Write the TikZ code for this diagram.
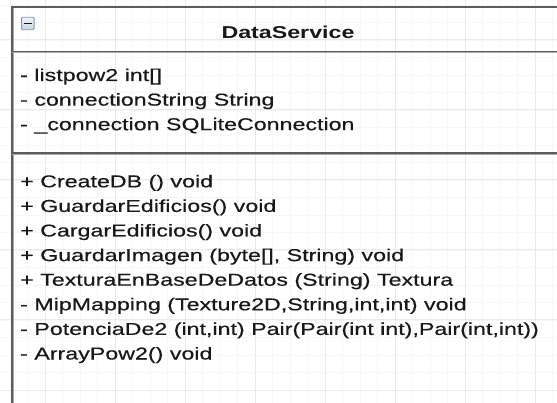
\documentclass[tikz,border=0pt]{standalone}
\usepackage{fontspec}
\setmainfont{Liberation Sans}[FakeStretch=1.35, UprightFeatures={FakeBold=0.35}]
\definecolor{gridmajor}{HTML}{EAEAEA}
\definecolor{gridminor}{HTML}{F7F7F7}
\definecolor{edge}{HTML}{5C5C5C}
\definecolor{edgelight}{HTML}{ABABAB}
\definecolor{ink}{HTML}{181818}
\definecolor{iconedge}{HTML}{8497AE}
\definecolor{icontop}{HTML}{F0F4F8}
\definecolor{iconbottom}{HTML}{C9D4E0}
\tikzset{
  member/.style={anchor=base west, inner sep=0pt, text=ink,
    font=\fontsize{17.2}{20}\selectfont},
  classname/.style={anchor=base, inner sep=0pt, text=ink,
    font=\fontsize{17.2}{20}\selectfont\bfseries},
  minorline/.style={draw=gridminor, line width=0.8pt},
  majorline/.style={draw=gridmajor, line width=1pt},
  frameline/.style={draw=edge, line width=1.8pt},
  frameshade/.style={draw=edgelight, line width=1pt},
}
\begin{document}
\begin{tikzpicture}[x=1pt,y=-1pt]
\useasboundingbox (0,0) rectangle (557,403);
\fill[white] (0,0) rectangle (557,403);

% background grid: fine lines every 17.5, strong lines every 70
\foreach \i in {0,...,31} \draw[minorline] ({10+17.5*\i},0) -- ({10+17.5*\i},403);
\foreach \j in {0,...,22} \draw[minorline] (0,{5+17.5*\j}) -- (557,{5+17.5*\j});
\foreach \i in {0,...,7} \draw[majorline] ({45+70*\i},0) -- ({45+70*\i},403);
\foreach \j in {0,...,5} \draw[majorline] (0,{40+70*\j}) -- (557,{40+70*\j});

% class frame (runs on past the right and bottom edges)
\coordinate (topleft) at (12,7);
\coordinate (topright) at (557,7);
\coordinate (bottomleft) at (12,403);
\coordinate (headleft) at (12,51.5);
\coordinate (headright) at (557,51.5);
\coordinate (partleft) at (12,153);
\coordinate (partright) at (557,153);

\draw[frameshade] ([xshift=1.3pt]topleft) -- ([xshift=1.3pt]bottomleft);
\draw[frameline] (bottomleft) -- (topleft) -- (topright);
\draw[frameshade] ([yshift=-1.3pt]headleft) -- ([yshift=-1.3pt]headright);
\draw[frameline] (headleft) -- (headright);
\draw[frameshade] ([yshift=-1.3pt]partleft) -- ([yshift=-1.3pt]partright);
\draw[frameline] (partleft) -- (partright);

% collapse toggle
\node[draw=iconedge, line width=0.9pt, top color=icontop, bottom color=iconbottom,
      minimum size=12.5pt, inner sep=0pt, rounded corners=1pt] (toggle) at (27.8,23.5) {};
\draw[ink, line width=1.8pt] ([xshift=-4pt]toggle.center) -- ([xshift=4pt]toggle.center);

% class name
\node[classname] (title) at (288,38.3) {DataService};

% fields
\node[member] (f1) at (20,81)    {- listpow2 int[]};
\node[member] (f2) at (20,105.6) {- connectionString String};
\node[member] (f3) at (20,130.2) {- \_connection SQLiteConnection};

% methods
\node[member] (m1) at (20,187.3) {+ CreateDB () void};
\node[member] (m2) at (20,211.9) {+ GuardarEdificios() void};
\node[member] (m3) at (20,236.5) {+ CargarEdificios() void};
\node[member] (m4) at (20,261.1) {+ GuardarImagen (byte[], String) void};
\node[member] (m5) at (20,285.7) {+ TexturaEnBaseDeDatos (String) Textura};
\node[member] (m6) at (20,310.3) {- MipMapping (Texture2D,String,int,int) void};
\node[member] (m7) at (20,334.9) {- PotenciaDe2 (int,int) Pair(Pair(int int),Pair(int,int))};
\node[member] (m8) at (20,359.5) {- ArrayPow2() void};
\end{tikzpicture}
\end{document}
